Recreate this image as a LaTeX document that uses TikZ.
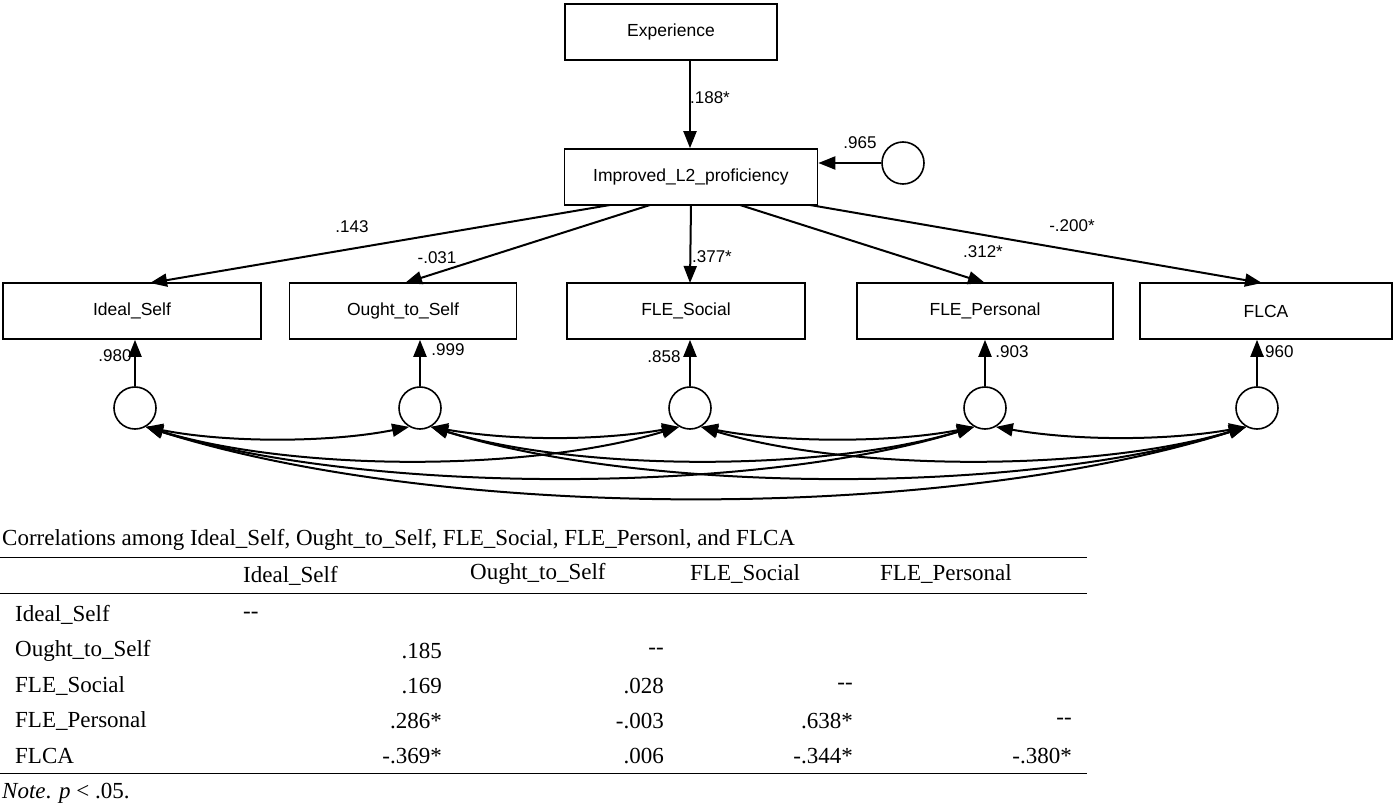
\documentclass[tikz,border=0pt]{standalone}
\usepackage{fontspec}
\setmainfont{Liberation Serif}
\newfontfamily\dsans{Liberation Sans}
\usetikzlibrary{arrows.meta,calc}
\begin{document}
\begin{tikzpicture}[x=1pt,y=-1pt,
 box/.style={draw,line width=1.6pt,minimum height=56pt,font=\dsans\fontsize{17.5}{20}\selectfont,inner sep=0pt},
 err/.style={draw,line width=1.6pt,circle,minimum size=42pt,inner sep=0pt},
 path/.style={line width=2pt,-{Triangle[length=17pt,width=13pt]}},
 cov/.style={line width=2pt,{Triangle[length=17pt,width=13pt]}-{Triangle[length=17pt,width=13pt]}},
 lab/.style={font=\dsans\fontsize{17}{20}\selectfont,inner sep=1pt},
 tt/.style={font=\fontsize{23}{26}\selectfont,inner sep=0pt}]
\useasboundingbox (0,0) rectangle (1395,810);
\node[box,minimum width=212pt] (exp) at (671,32) {Experience};
\node[box,minimum width=253pt] (imp) at (691,177) {Improved\_L2\_proficiency};
\node[err] (eimp) at (903,163) {};
\node[box,minimum width=258pt] (b1) at (132,311) {Ideal\_Self};
\node[box,minimum width=227pt] (b2) at (403,311) {Ought\_to\_Self};
\node[box,minimum width=238pt] (b3) at (686,311) {FLE\_Social};
\node[box,minimum width=256pt] (b4) at (985,311) {FLE\_Personal};
\node[box,minimum width=252pt] (b5) at (1266,311) {FLCA};
\foreach \i/\x in {1/135,2/420,3/690,4/985,5/1257}{
 \node[err] (e\i) at (\x,408) {};
 \draw[path] (e\i.north) -- (e\i.north |- b\i.south);
}
\coordinate (ex) at (690,60);
\draw[path] (ex) -- (ex |- imp.north);
\draw[path] (eimp.west) -- (imp.east |- eimp.west);
\coordinate (s1) at (610,205); \coordinate (s2) at (650,205); \coordinate (s3) at (691,205);
\coordinate (s4) at (740,205); \coordinate (s5) at (810,205);
\foreach \i/\x in {1/150,2/405,3/690,4/985,5/1262}{
 \draw[path] (s\i) -- (\x,283);
}
\node[lab] at (352,227) {.143};
\node[lab] at (437,258) {-.031};
\node[lab] at (712,257) {.377*};
\node[lab] at (983,252) {.312*};
\node[lab] at (1072,226) {-.200*};
\node[lab] at (860,143) {.965};
\node[lab] at (710,98) {.188*};
\node[lab] at (115,356) {.980};
\node[lab] at (448,350) {.999};
\node[lab] at (664,357) {.858};
\node[lab] at (1012,352) {.903};
\node[lab] at (1277,352) {.960};
\foreach \i/\j/\d/\h in {1/2/80/16,1/3/150/45,1/4/220/68,1/5/300/95,2/3/80/14,2/4/150/45,2/5/220/68,3/4/80/16,3/5/150/45,4/5/80/14}{
 \draw[cov] (e\i.300) .. controls ($(e\i.300)+(\d,\h)$) and ($(e\j.240)+(-\d,\h)$) .. (e\j.240);
}
% table
\node[tt,anchor=west] at (2,540) {Correlations among Ideal\_Self, Ought\_to\_Self, FLE\_Social, FLE\_Personl, and FLCA};
\draw[line width=1pt] (0,557) -- (1087,557);
\draw[line width=1pt] (0,593) -- (1087,593);
\draw[line width=1pt] (0,773) -- (1087,773);
\node[tt,anchor=west] at (243,576) {Ideal\_Self};
\node[tt,anchor=west] at (470,574) {Ought\_to\_Self};
\node[tt,anchor=west] at (690,574) {FLE\_Social};
\node[tt,anchor=west] at (880,574) {FLE\_Personal};
\foreach \n/\y in {Ideal\_Self/615,Ought\_to\_Self/651,FLE\_Social/686,FLE\_Personal/721,FLCA/756}
 \node[tt,anchor=west] at (15,\y) {\n};
\node[tt,anchor=west] at (243,615) {{-}{-}};
\node[tt,anchor=east] at (442,651) {.185};
\node[tt,anchor=east] at (664,651) {{-}{-}};
\node[tt,anchor=east] at (442,686) {.169};
\node[tt,anchor=east] at (664,686) {.028};
\node[tt,anchor=east] at (853,686) {{-}{-}};
\node[tt,anchor=east] at (442,721) {.286*};
\node[tt,anchor=east] at (664,721) {-.003};
\node[tt,anchor=east] at (853,721) {.638*};
\node[tt,anchor=east] at (1072,721) {{-}{-}};
\node[tt,anchor=east] at (442,756) {-.369*};
\node[tt,anchor=east] at (664,756) {.006};
\node[tt,anchor=east] at (853,756) {-.344*};
\node[tt,anchor=east] at (1072,756) {-.380*};
\node[tt,anchor=west] at (2,793) {\textit{Note}. \textit{p} < .05.};
\end{tikzpicture}
\end{document}
